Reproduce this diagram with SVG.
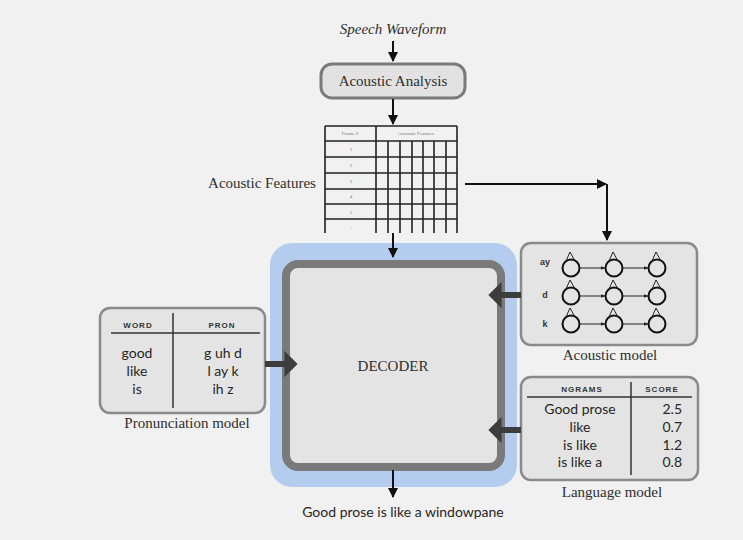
<svg xmlns="http://www.w3.org/2000/svg" width="743" height="540" viewBox="0 0 743 540">
<defs>
<style>
.serif{font-family:"Liberation Serif","Times New Roman",serif;fill:#2e2e2e}
.sans{font-family:Lato,"Open Sans","Liberation Sans",sans-serif;fill:#262626}
.hdr{font-family:"Liberation Sans",Arial,sans-serif;font-weight:bold;font-size:8px;letter-spacing:1px;fill:#333}
.box{fill:#e4e4e4;stroke:#8a8a8a;stroke-width:2.5}
.thin{stroke:#111;stroke-width:2;fill:none}
.thick{stroke:#3d3d3d;stroke-width:6;fill:none}
.grid{stroke:#222;stroke-width:1.6;fill:none}
.hmm{stroke:#111;stroke-width:2;fill:none}
.lnk{stroke:#222;stroke-width:1;fill:none}
</style>
<marker id="ah" viewBox="0 0 10 10" refX="9" refY="5" markerWidth="5" markerHeight="5" orient="auto" markerUnits="strokeWidth">
<path d="M0,0 L10,5 L0,10 Z" fill="#111"/>
</marker>
<marker id="ahT" viewBox="0 0 10 20" refX="8" refY="10" markerWidth="2.2" markerHeight="4.4" orient="auto" markerUnits="strokeWidth">
<path d="M0,0 L10,10 L0,20 Z" fill="#3d3d3d"/>
</marker>
<marker id="ahS" viewBox="0 0 10 10" refX="9" refY="5" markerWidth="5" markerHeight="5" orient="auto" markerUnits="strokeWidth">
<path d="M0,1 L10,5 L0,9 Z" fill="#222"/>
</marker>
</defs>
<rect x="0" y="0" width="743" height="540" fill="#f1f1f1"/>

<g id="speech-waveform">
<text class="serif" x="393" y="34" font-size="15" font-style="italic" text-anchor="middle">Speech Waveform</text>
</g>

<g id="acoustic-analysis">
<rect x="321" y="64" width="144" height="34" rx="11" fill="#e2e2e2" stroke="#7a7a7a" stroke-width="3"/>
<text class="serif" x="393" y="86" font-size="15" text-anchor="middle">Acoustic Analysis</text>
</g>

<g id="acoustic-features">
<text class="serif" x="262" y="188" font-size="15" text-anchor="middle">Acoustic Features</text>
<g class="grid">
<path d="M325,126 H457 M325,141 H457 M325,157 H457 M325,173 H457 M325,189 H457 M325,204 H457 M325,219 H457"/>
<path d="M325,126 V233 M376,126 V233 M457,126 V233"/>
<path d="M388,141 V233 M400,141 V233 M412,141 V233 M423,141 V233 M434,141 V233 M446,141 V233"/>
</g>
<text x="350" y="135" font-family="Liberation Serif,serif" font-size="5" fill="#777" text-anchor="middle">Frame #</text>
<text x="416" y="135" font-family="Liberation Serif,serif" font-size="5" fill="#777" text-anchor="middle">Acoustic Features</text>
<g font-family="Liberation Serif,serif" font-size="5" fill="#777" text-anchor="middle">
<text x="351" y="151">1</text>
<text x="351" y="167">2</text>
<text x="351" y="183">3</text>
<text x="351" y="198">4</text>
<text x="351" y="214">5</text>
<text x="351" y="229" fill="#bbb">?</text>
</g>
</g>

<g id="decoder">
<rect x="270" y="243" width="247" height="244" rx="22" fill="#b4cdee"/>
<rect x="286" y="264" width="215" height="203" rx="12" fill="#e4e4e4" stroke="#7a7a7a" stroke-width="8"/>
<text class="serif" x="393" y="371" font-size="15" text-anchor="middle">DECODER</text>
</g>

<g id="acoustic-model">
<rect class="box" x="521" y="243" width="176" height="102" rx="10"/>
<g font-family="Liberation Sans,Arial,sans-serif" font-weight="bold" font-size="9" fill="#333" text-anchor="middle">
<text x="545" y="265">ay</text>
<text x="545" y="298">d</text>
<text x="545" y="327">k</text>
</g>
<g id="hmm-rows">
<g class="hmm">
<circle cx="571" cy="268" r="8.5"/><circle cx="614" cy="268" r="8.5"/><circle cx="657" cy="268" r="8.5"/>
<circle cx="571" cy="296" r="8.5"/><circle cx="614" cy="296" r="8.5"/><circle cx="657" cy="296" r="8.5"/>
<circle cx="571" cy="324" r="8.5"/><circle cx="614" cy="324" r="8.5"/><circle cx="657" cy="324" r="8.5"/>
</g>
<g class="lnk">
<path d="M566,261 L570,252 L575,261" /><path d="M609,261 L613,252 L618,261"/><path d="M652,261 L656,252 L661,261"/>
<path d="M566,289 L570,280 L575,289" /><path d="M609,289 L613,280 L618,289"/><path d="M652,289 L656,280 L661,289"/>
<path d="M566,317 L570,308 L575,317" /><path d="M609,317 L613,308 L618,317"/><path d="M652,317 L656,308 L661,317"/>
</g>
<g class="lnk" marker-end="url(#ahS)">
<path d="M579.5,268 H605"/><path d="M622.5,268 H648"/>
<path d="M579.5,296 H605"/><path d="M622.5,296 H648"/>
<path d="M579.5,324 H605"/><path d="M622.5,324 H648"/>
</g>
</g>
<text class="serif" x="610" y="360" font-size="15" text-anchor="middle">Acoustic model</text>
</g>

<g id="pronunciation-model">
<rect class="box" x="100" y="308" width="165" height="105" rx="10"/>
<text class="hdr" x="138" y="328" text-anchor="middle">WORD</text>
<text class="hdr" x="222" y="328" text-anchor="middle">PRON</text>
<path d="M111,333 H260 M173,313 V408" stroke="#333" stroke-width="1.5"/>
<g class="sans" font-size="14" text-anchor="middle">
<text x="137" y="358">good</text>
<text x="137" y="376">like</text>
<text x="137" y="394">is</text>
<text x="223" y="358">g uh d</text>
<text x="223" y="376">l ay k</text>
<text x="223" y="394">ih z</text>
</g>
<text class="serif" x="187" y="428" font-size="15" text-anchor="middle">Pronunciation model</text>
</g>

<g id="language-model">
<rect class="box" x="521" y="377" width="177" height="103" rx="10"/>
<text class="hdr" x="582" y="392" text-anchor="middle">NGRAMS</text>
<text class="hdr" x="662" y="392" text-anchor="middle">SCORE</text>
<path d="M527,397 H692 M631,382 V475" stroke="#333" stroke-width="1.5"/>
<g class="sans" font-size="14" text-anchor="middle">
<text x="580" y="414">Good prose</text>
<text x="580" y="432">like</text>
<text x="580" y="450">is like</text>
<text x="580" y="467">is like a</text>
</g>
<g class="sans" font-size="14" text-anchor="end">
<text x="682" y="414">2.5</text>
<text x="682" y="432">0.7</text>
<text x="682" y="450">1.2</text>
<text x="682" y="467">0.8</text>
</g>
<text class="serif" x="612" y="497" font-size="15" text-anchor="middle">Language model</text>
</g>

<g id="output">
<text class="sans" x="403" y="517" font-size="14" text-anchor="middle">Good prose is like a windowpane</text>
</g>

<g id="connectors">
<path class="thin" d="M393,41 V61" marker-end="url(#ah)"/>
<path class="thin" d="M393,99 V124" marker-end="url(#ah)"/>
<path class="thin" d="M393,233 V257" marker-end="url(#ah)"/>
<path class="thin" d="M465,184 H606" marker-end="url(#ah)"/>
<path class="thin" d="M607,184 V240" marker-end="url(#ah)"/>
<path class="thin" d="M393,470 V497" marker-end="url(#ah)"/>
<path class="thick" d="M521,295 H491" marker-end="url(#ahT)"/>
<path class="thick" d="M521,430 H491" marker-end="url(#ahT)"/>
<path class="thick" d="M265,364 H295" marker-end="url(#ahT)"/>
</g>
</svg>
